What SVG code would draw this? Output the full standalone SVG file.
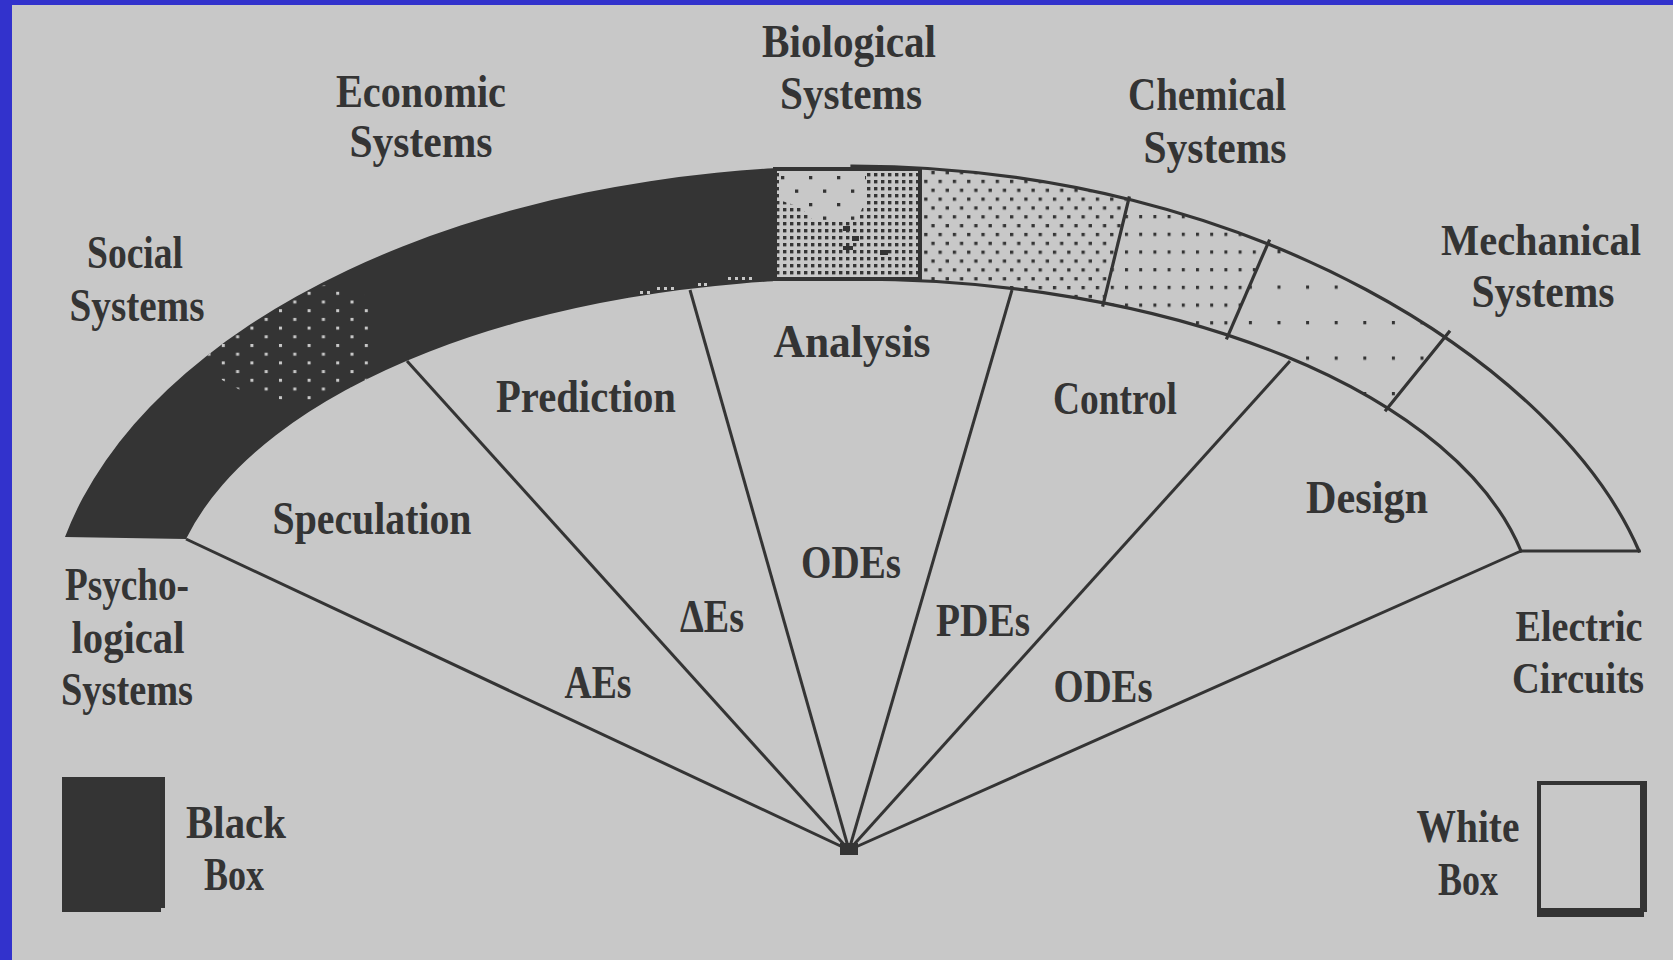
<svg xmlns="http://www.w3.org/2000/svg" width="1673" height="960" viewBox="0 0 1673 960">
<style>
.bg{fill:#c8c8c8}
.ink{fill:#343434}
.ln{stroke:#343434;stroke-width:3.2;fill:none;stroke-linecap:square}
.rad{stroke:#343434;stroke-width:3;fill:none}
.lbl{font-family:"Liberation Serif","Times New Roman",serif;font-size:47px;font-weight:bold;fill:#343434;text-anchor:middle}
.sm{font-size:44px}
.dk{fill:#343434}
.lt{fill:#c8c8c8}
</style>
<defs>
<pattern id="pChem" patternUnits="userSpaceOnUse" x="1081.5" y="197.5" width="14.3" height="17.7">
<rect class="dk" x="0" y="0" width="3.3" height="3.3"/>
<rect class="dk" x="7.15" y="8.85" width="3.3" height="3.3"/>
</pattern>
<pattern id="pSeg2" patternUnits="userSpaceOnUse" x="1125" y="215" width="14.2" height="17.7">
<rect class="dk" x="0" y="0" width="3" height="3.3"/>
</pattern>
<pattern id="pSeg3" patternUnits="userSpaceOnUse" x="1277.5" y="285.5" width="28.6" height="35.5">
<rect class="dk" x="0" y="0" width="3" height="3.3"/>
</pattern>
<pattern id="pBio" patternUnits="userSpaceOnUse" x="776" y="173" width="7" height="7">
<rect class="dk" x="0" y="0" width="3.4" height="3.4"/>
</pattern>
<pattern id="pSparse" patternUnits="userSpaceOnUse" x="781" y="176" width="28" height="27">
<rect class="dk" x="0" y="0" width="3.3" height="3.3"/>
<rect class="dk" x="14" y="13.5" width="3.3" height="3.3"/>
</pattern>
<pattern id="pSoc" patternUnits="userSpaceOnUse" x="279" y="344" width="28.6" height="17.4">
<rect class="lt" x="0" y="0" width="3" height="3"/>
<rect class="lt" x="14.3" y="8.7" width="3" height="3"/>
</pattern>
<path id="band" d="M 65 537 A 806.3 474 0 0 1 852 166 C 1252 166 1560 367 1639 551 L 1521 551 A 682 341 0 0 0 853 279 A 686.6 341 0 0 0 186 539 Z"/>
<clipPath id="cBand"><use href="#band"/></clipPath>
<clipPath id="cLeft"><rect x="0" y="0" width="773" height="600"/></clipPath>
<clipPath id="cChem"><polygon points="922,100 1151,100 1082,400 922,400"/></clipPath>
<clipPath id="cSeg2"><polygon points="1151,100 1329,100 1159,500 1059,500"/></clipPath>
<clipPath id="cSeg3"><polygon points="1329,100 1636,100 1313,500 1159,500"/></clipPath>
<clipPath id="cSoc"><polygon points="205,360 215,335 240,310 280,296 330,284 362,290 376,320 376,380 345,396 290,402 240,390 215,376"/></clipPath>
</defs>

<rect class="bg" x="0" y="0" width="1673" height="960"/>
<rect x="0" y="0" width="1673" height="5" fill="#3232cc"/>
<rect x="0" y="0" width="12" height="960" fill="#3232cc"/>

<g id="band-segments">
<g id="seg-black">
<use href="#band" class="ink" clip-path="url(#cLeft)"/>
<g clip-path="url(#cBand)">
<rect x="200" y="280" width="180" height="125" fill="url(#pSoc)" clip-path="url(#cSoc)"/>
</g>
<g class="lt">
<rect x="728" y="277" width="3" height="3"/><rect x="735" y="277" width="3" height="3"/><rect x="742" y="277" width="3" height="3"/><rect x="749" y="277" width="3" height="3"/>
<rect x="698" y="283" width="3" height="3"/><rect x="704" y="283" width="3" height="3"/>
<rect x="657" y="287" width="3" height="3"/><rect x="664" y="287" width="3" height="3"/><rect x="671" y="287" width="3" height="3"/>
<rect x="640" y="291" width="3" height="3"/><rect x="647" y="291" width="3" height="3"/>
</g>
</g>
<g id="seg-dots" clip-path="url(#cBand)">
<rect id="seg-chemical" x="922" y="150" width="260" height="200" fill="url(#pChem)" clip-path="url(#cChem)"/>
<rect id="seg-2" x="1050" y="150" width="300" height="250" fill="url(#pSeg2)" clip-path="url(#cSeg2)"/>
<rect id="seg-3" x="1150" y="150" width="400" height="300" fill="url(#pSeg3)" clip-path="url(#cSeg3)"/>
</g>
<g id="band-outline">
<path class="ln" d="M 852 166 C 1252 166 1560 367 1639 551"/>
<path class="ln" d="M 853 279 A 682 341 0 0 1 1521 551"/>
<path class="ln" d="M 1521 551 L 1639 551"/>
<path class="ln" d="M 1129 198 L 1103 305"/>
<path class="ln" d="M 1269 241 L 1227 338"/>
<path class="ln" d="M 1449 332 L 1386 410"/>
</g>
<g id="seg-biological">
<rect class="bg" x="773" y="167" width="149" height="114"/>
<rect x="773" y="167" width="149" height="114" fill="url(#pBio)"/>
<polygon class="bg" points="779,172 866,172 866,200 856,222 815,222 800,207 779,200"/>
<polygon points="779,172 866,172 866,200 856,222 815,222 800,207 779,200" fill="url(#pSparse)"/>
<g class="dk">
<rect x="843" y="226" width="7" height="5"/><rect x="852" y="236" width="7" height="5"/><rect x="843" y="246" width="10" height="4"/><rect x="880" y="250" width="8" height="5"/>
</g>
<rect x="775" y="169" width="145" height="110" fill="none" stroke="#343434" stroke-width="4"/>
</g>
</g>

<g id="connectors">
<line class="rad" x1="186" y1="539" x2="849" y2="850"/>
<line class="rad" x1="407" y1="361" x2="849" y2="850"/>
<line class="rad" x1="690" y1="290" x2="849" y2="850"/>
<line class="rad" x1="1012" y1="290" x2="849" y2="850"/>
<line class="rad" x1="1290" y1="361" x2="849" y2="850"/>
<line class="rad" x1="1521" y1="551" x2="849" y2="850"/>
<rect class="dk" x="840" y="843" width="18" height="12"/>
</g>

<g id="label-economic"><text class="lbl" x="421" y="107" textLength="170" lengthAdjust="spacingAndGlyphs">Economic</text><text class="lbl" x="421" y="157" textLength="143" lengthAdjust="spacingAndGlyphs">Systems</text></g>
<g id="label-social"><text class="lbl" x="135" y="268" textLength="96" lengthAdjust="spacingAndGlyphs">Social</text><text class="lbl" x="137" y="321" textLength="135" lengthAdjust="spacingAndGlyphs">Systems</text></g>
<g id="label-biological"><text class="lbl" x="849" y="57" textLength="174" lengthAdjust="spacingAndGlyphs">Biological</text><text class="lbl" x="851" y="109" textLength="142" lengthAdjust="spacingAndGlyphs">Systems</text></g>
<g id="label-chemical"><text class="lbl" x="1207" y="110" textLength="158" lengthAdjust="spacingAndGlyphs">Chemical</text><text class="lbl" x="1215" y="163" textLength="143" lengthAdjust="spacingAndGlyphs">Systems</text></g>
<g id="label-mechanical"><text class="lbl sm" x="1541" y="255" textLength="200" lengthAdjust="spacingAndGlyphs">Mechanical</text><text class="lbl" x="1543" y="307" textLength="143" lengthAdjust="spacingAndGlyphs">Systems</text></g>
<g id="label-psychological"><text class="lbl" x="127" y="600" textLength="124" lengthAdjust="spacingAndGlyphs">Psycho-</text><text class="lbl" x="128" y="653" textLength="113" lengthAdjust="spacingAndGlyphs">logical</text><text class="lbl" x="127" y="705" textLength="132" lengthAdjust="spacingAndGlyphs">Systems</text></g>
<g id="label-electric"><text class="lbl sm" x="1579" y="641" textLength="127" lengthAdjust="spacingAndGlyphs">Electric</text><text class="lbl sm" x="1578" y="693" textLength="132" lengthAdjust="spacingAndGlyphs">Circuits</text></g>

<g id="label-speculation"><text class="lbl" x="372" y="534" textLength="199" lengthAdjust="spacingAndGlyphs">Speculation</text></g>
<g id="label-prediction"><text class="lbl" x="586" y="412" textLength="180" lengthAdjust="spacingAndGlyphs">Prediction</text></g>
<g id="label-analysis"><text class="lbl" x="852" y="357" textLength="157" lengthAdjust="spacingAndGlyphs">Analysis</text></g>
<g id="label-control"><text class="lbl" x="1115" y="414" textLength="124" lengthAdjust="spacingAndGlyphs">Control</text></g>
<g id="label-design"><text class="lbl" x="1367" y="513" textLength="122" lengthAdjust="spacingAndGlyphs">Design</text></g>
<g id="label-aes"><text class="lbl" x="598" y="698" textLength="67" lengthAdjust="spacingAndGlyphs">AEs</text></g>
<g id="label-dEs"><text class="lbl" x="712" y="632" textLength="64" lengthAdjust="spacingAndGlyphs">ΔEs</text></g>
<g id="label-odes-center"><text class="lbl" x="851" y="578" textLength="100" lengthAdjust="spacingAndGlyphs">ODEs</text></g>
<g id="label-pdes"><text class="lbl" x="983" y="636" textLength="94" lengthAdjust="spacingAndGlyphs">PDEs</text></g>
<g id="label-odes-right"><text class="lbl" x="1103" y="702" textLength="99" lengthAdjust="spacingAndGlyphs">ODEs</text></g>

<g id="legend-black">
<polygon class="dk" points="62,777 165,777 165,908 161,908 161,912 62,912"/>
<text class="lbl" x="236" y="838" textLength="100" lengthAdjust="spacingAndGlyphs">Black</text>
<text class="lbl" x="234" y="890" textLength="60" lengthAdjust="spacingAndGlyphs">Box</text>
</g>
<g id="legend-white">
<path class="dk" fill-rule="evenodd" d="M1537 781 H1647 V912 H1644 V917 H1537 Z M1541 785 V908 H1640 V785 Z"/>
<text class="lbl" x="1468" y="842" textLength="103" lengthAdjust="spacingAndGlyphs">White</text>
<text class="lbl" x="1468" y="895" textLength="60" lengthAdjust="spacingAndGlyphs">Box</text>
</g>
</svg>
